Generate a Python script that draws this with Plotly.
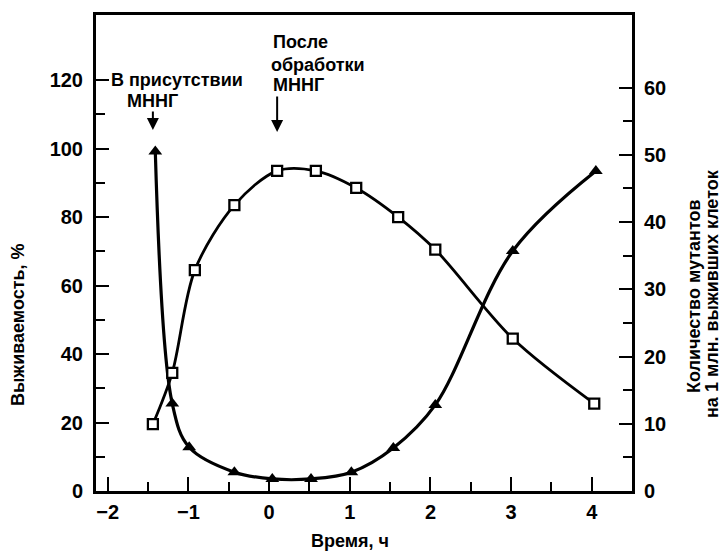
import plotly.graph_objects as go

# ---- data ----
time_survival = [-1.44, -1.20, -0.92, -0.43, 0.10, 0.58, 1.08, 1.60, 2.06, 3.02, 4.03]
survival_pct = [19.5, 34.5, 64.5, 83.5, 93.5, 93.5, 88.5, 80.0, 70.5, 44.5, 25.5]

time_mutants = [-1.41, -1.20, -0.99, -0.43, 0.04, 0.52, 1.02, 1.54, 2.06, 3.02, 4.05]
mutants_per_million = [50.5, 13.0, 6.5, 2.8, 1.8, 1.8, 2.8, 6.4, 12.8, 35.7, 47.6]

x_ticks = [-2, -1, 0, 1, 2, 3, 4]
left_ticks = [0, 20, 40, 60, 80, 100, 120]
right_ticks = [0, 10, 20, 30, 40, 50, 60]

FONT = "Liberation Sans, Arial, sans-serif"
BLACK = "#000000"

fig = go.Figure()

# mutants (right axis) - on base y axis so survival squares draw on top
fig.add_trace(go.Scatter(
    x=time_mutants, y=mutants_per_million, yaxis="y",
    mode="lines+markers",
    line=dict(color=BLACK, width=3.2, shape="spline", smoothing=1.0),
    marker=dict(symbol="triangle-up", size=12, color=BLACK),
    showlegend=False, hoverinfo="skip"))

# survival (left axis)
fig.add_trace(go.Scatter(
    x=time_survival, y=survival_pct, yaxis="y2",
    mode="lines",
    line=dict(color=BLACK, width=2.8, shape="spline", smoothing=0.9),
    showlegend=False, hoverinfo="skip"))
fig.add_trace(go.Scatter(
    x=time_survival, y=survival_pct, yaxis="y2", mode="markers",
    marker=dict(symbol="square", size=10, color="white",
                line=dict(width=2.3, color=BLACK)),
    showlegend=False, hoverinfo="skip"))

tickfont = dict(family=FONT, size=20, color=BLACK, weight="bold")

fig.update_layout(
    width=721, height=551,
    margin=dict(l=96, r=89, t=15, b=60),
    paper_bgcolor="white", plot_bgcolor="white",
    font=dict(family=FONT, color=BLACK),
    xaxis=dict(
        range=[-2.145, 4.498], tickvals=x_ticks,
        showline=True, linewidth=3, linecolor=BLACK, mirror=True,
        ticks="inside", ticklen=14, tickwidth=2, tickcolor=BLACK,
        minor=dict(tickvals=[-1.5, -0.5, 0.5, 1.5, 2.5, 3.5], ticks="inside",
                   ticklen=9, tickwidth=2, tickcolor=BLACK),
        showgrid=False, zeroline=False, tickfont=tickfont,
        ticklabelstandoff=1,
    ),
    yaxis=dict(
        side="right", range=[0, 70.8], tickvals=right_ticks,
        showline=True, linewidth=3, linecolor=BLACK,
        ticks="inside", ticklen=13, tickwidth=2, tickcolor=BLACK,
        minor=dict(tickvals=[5, 15, 25, 35, 45, 55], ticks="inside",
                   ticklen=9, tickwidth=2, tickcolor=BLACK),
        showgrid=False, zeroline=False, tickfont=tickfont,
        ticklabelstandoff=5,
    ),
    yaxis2=dict(
        side="left", overlaying="y", range=[0, 139], tickvals=left_ticks,
        showline=True, linewidth=3, linecolor=BLACK,
        ticks="inside", ticklen=13, tickwidth=2, tickcolor=BLACK,
        minor=dict(tickvals=[10, 30, 50, 70, 90, 110], ticks="inside",
                   ticklen=9, tickwidth=2, tickcolor=BLACK),
        showgrid=False, zeroline=False, tickfont=tickfont,
        ticklabelstandoff=6,
    ),
)

txt = dict(family=FONT, size=18, color=BLACK, weight="bold")
annotations = [
    # axis titles
    dict(text="Время, ч", xref="paper", yref="paper", x=(350 - 96) / 536, y=(491 - 541) / 476,
         showarrow=False, font=txt, xanchor="center", yanchor="middle"),
    dict(text="Выживаемость, %", xref="paper", yref="paper", x=(18 - 96) / 536, y=(491 - 325) / 476,
         showarrow=False, font=txt, textangle=-90, xanchor="center", yanchor="middle"),
    dict(text="Количество мутантов", xref="paper", yref="paper", x=(694 - 96) / 536, y=(491 - 296) / 476,
         showarrow=False, font=txt, textangle=-90, xanchor="center", yanchor="middle"),
    dict(text="на 1 млн. выживших клеток", xref="paper", yref="paper", x=(712 - 96) / 536, y=(491 - 294) / 476,
         showarrow=False, font=txt, textangle=-90, xanchor="center", yanchor="middle"),
    # labels
    dict(text="В присутствии", xref="x", yref="y2", x=-1.14, y=120.0,
         showarrow=False, font=txt, xanchor="center", yanchor="middle"),
    dict(text="МННГ", xref="x", yref="y2", x=-1.45, y=113.8,
         showarrow=False, font=txt, xanchor="center", yanchor="middle"),
    dict(text="После", xref="x", yref="y2", x=0.025, y=131.0,
         showarrow=False, font=txt, xanchor="left", yanchor="middle"),
    dict(text="обработки", xref="x", yref="y2", x=0.0, y=124.5,
         showarrow=False, font=txt, xanchor="left", yanchor="middle"),
    dict(text="МННГ", xref="x", yref="y2", x=0.025, y=118.5,
         showarrow=False, font=txt, xanchor="left", yanchor="middle"),
    # arrows
    dict(text="", xref="x", yref="y2", x=-1.44, y=105.4, ax=0, ay=-20,
         showarrow=True, arrowhead=2, arrowsize=1.2, arrowwidth=2, arrowcolor=BLACK),
    dict(text="", xref="x", yref="y2", x=0.10, y=104.8, ax=0, ay=-37,
         showarrow=True, arrowhead=2, arrowsize=1.2, arrowwidth=2, arrowcolor=BLACK),
]
fig.update_layout(annotations=annotations)

fig.write_html("out.html", config={"displayModeBar": False},
               post_script="document.body.style.margin='0';document.body.style.overflow='hidden';")
